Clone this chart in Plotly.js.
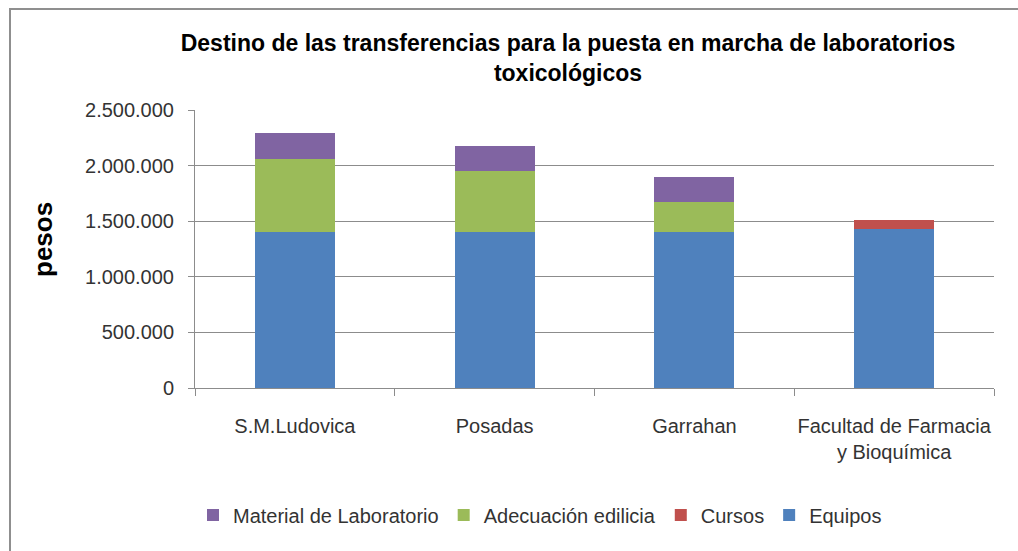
<!DOCTYPE html>
<html>
<head>
<meta charset="utf-8">
<script src="https://cdn.plot.ly/plotly-3.0.1.min.js"></script>
<style>
  html, body { margin: 0; padding: 0; background: #ffffff; overflow: hidden; }
  #frame { position: absolute; left: 9px; top: 8px; width: 1100px; height: 700px;
           border-left: 2px solid #8f8f8f; border-top: 2px solid #8f8f8f; }
  #chart { position: absolute; left: 0; top: 0; width: 1018px; height: 551px; }
</style>
</head>
<body>
<div id="frame"></div>
<div id="chart"></div>
<script>
// ---- data ----
const categories = ['S.M.Ludovica', 'Posadas', 'Garrahan', 'Facultad de Farmacia<br>y Bioquímica'];
const equipos    = [1405000, 1405000, 1405000, 1430000];
const cursos     = [null, null, null, 78000];
const adecuacion = [658000, 545000, 265000, null];
const material   = [229000, 230000, 231000, null];
const yTicks     = [0, 500000, 1000000, 1500000, 2000000, 2500000];

const seriesNames  = ['Equipos', 'Cursos', 'Adecuación edilicia', 'Material de Laboratorio'];
const seriesValues = [equipos, cursos, adecuacion, material];
const seriesColors = ['#4F81BD', '#C0504D', '#9BBB59', '#8064A2'];

const FONT = 'Liberation Sans, Arial, sans-serif';

const traces = seriesNames.map((name, i) => ({
  type: 'bar',
  name: name,
  x: categories,
  y: seriesValues[i],
  width: 0.4,
  marker: { color: seriesColors[i], line: { width: 0 } }
}));

const W = 1018, H = 551;
const layout = {
  width: W, height: H,
  barmode: 'stack',
  separators: ',.',
  paper_bgcolor: 'rgba(0,0,0,0)',
  plot_bgcolor: 'rgba(0,0,0,0)',
  margin: { l: 195, r: 24, t: 110, b: 163, pad: 0 },
  font: { family: FONT, size: 20, color: '#333333' },
  title: {
    text: 'Destino de las transferencias para la puesta en marcha de laboratorios<br>toxicológicos',
    font: { family: FONT, size: 23, color: '#000000', weight: 'bold' },
    x: 568 / W, xref: 'container', xanchor: 'center',
    y: 1 - 51 / H, yref: 'container', yanchor: 'top'
  },
  xaxis: {
    type: 'category',
    showgrid: false,
    showline: true, linecolor: '#8c8c8c', linewidth: 1,
    ticks: 'outside', tickson: 'boundaries', ticklen: 7, tickcolor: '#8c8c8c', tickwidth: 1,
    tickangle: 0,
    tickfont: { family: FONT, size: 20, color: '#333333' },
    ticklabelstandoff: 20,
    fixedrange: true
  },
  yaxis: {
    range: [0, 2500000],
    tickvals: yTicks,
    tickformat: ',d',
    showgrid: true, gridcolor: '#8c8c8c', gridwidth: 1,
    showline: true, linecolor: '#8c8c8c', linewidth: 1,
    zeroline: false,
    ticks: 'outside', ticklen: 6, tickcolor: '#8c8c8c', tickwidth: 1,
    tickfont: { family: FONT, size: 20, color: '#333333' },
    ticklabelstandoff: 10,
    fixedrange: true
  },
  showlegend: true,
  legend: {
    orientation: 'h',
    traceorder: 'reversed',
    x: 540 / W, xanchor: 'center',
    xref: 'container',
    y: 1 - 515 / H, yref: 'container', yanchor: 'middle',
    font: { family: FONT, size: 20, color: '#333333' },
    itemwidth: 30
  },
  annotations: [{
    text: 'pesos',
    textangle: -90,
    xref: 'paper', yref: 'paper',
    x: (43 - 195) / (W - 195 - 24), y: (388 - 240) / (388 - 110),
    xanchor: 'center', yanchor: 'middle',
    showarrow: false,
    font: { family: FONT, size: 26, color: '#000000', weight: 'bold' }
  }]
};

Plotly.newPlot('chart', traces, layout, { staticPlot: true, displayModeBar: false });
</script>
</body>
</html>
